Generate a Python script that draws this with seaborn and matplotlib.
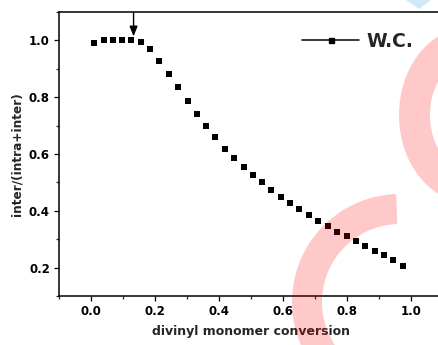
import numpy as np
import pandas as pd
import matplotlib
matplotlib.use("Agg")
import matplotlib.pyplot as plt
from matplotlib.lines import Line2D
from matplotlib.patches import Polygon
import seaborn as sns

# Fraction of intermolecular reactions vs. divinyl monomer conversion
conversion = [0.010, 0.040, 0.069, 0.098, 0.126, 0.156, 0.185, 0.214, 0.244,
              0.273, 0.302, 0.331, 0.360, 0.389, 0.419, 0.448, 0.477, 0.506,
              0.535, 0.564, 0.593, 0.622, 0.651, 0.681, 0.710, 0.740, 0.770,
              0.799, 0.828, 0.857, 0.887, 0.916, 0.945, 0.975]
inter_ratio = [0.990, 1.000, 1.000, 1.000, 1.000, 0.993, 0.968, 0.928, 0.883,
               0.836, 0.787, 0.742, 0.700, 0.659, 0.619, 0.586, 0.554, 0.527,
               0.501, 0.474, 0.450, 0.427, 0.405, 0.384, 0.364, 0.347, 0.326,
               0.311, 0.293, 0.277, 0.259, 0.244, 0.226, 0.207]
series_name = "W.C."
onset_x = 0.133
x_ticks = [0.0, 0.2, 0.4, 0.6, 0.8, 1.0]
y_ticks = [0.2, 0.4, 0.6, 0.8, 1.0]

df = pd.DataFrame({"conversion": conversion, "ratio": inter_ratio})

sns.set_theme(style="ticks")
plt.rcParams["font.family"] = ["DejaVu Sans"]
plt.rcParams["font.weight"] = "bold"

fig = plt.figure(figsize=(4.39, 3.45), dpi=100)
ax = fig.add_axes([59 / 439, 49 / 345, 384 / 439, 284 / 345])

sns.scatterplot(data=df, x="conversion", y="ratio", marker="s", s=20,
                color="black", edgecolor="black", linewidth=0, ax=ax,
                legend=False, zorder=3)

ax.set_xlim(-0.1, 1.1)
ax.set_ylim(0.1, 1.1)
ax.set_xticks(x_ticks)
ax.set_yticks(y_ticks)
ax.set_xticks(np.arange(-0.1, 1.11, 0.1), minor=True)
ax.set_yticks(np.arange(0.1, 1.11, 0.1), minor=True)
ax.set_xticklabels([f"{v:.1f}" for v in x_ticks])
ax.set_yticklabels([f"{v:.1f}" for v in y_ticks])
ax.tick_params(which="major", direction="out", length=3.5, width=0.9,
               labelsize=8.5, pad=3, colors="black")
ax.tick_params(which="minor", direction="out", length=2.2, width=0.9)
ax.tick_params(axis="x", which="both", top=False)
ax.tick_params(axis="y", which="both", right=False)
for lab in ax.get_xticklabels() + ax.get_yticklabels():
    lab.set_fontweight("bold")

for side in ["left", "bottom", "top", "right"]:
    ax.spines[side].set_visible(True)
    ax.spines[side].set_color("black")
    ax.spines[side].set_linewidth(1.1)

ax.set_xlabel("divinyl monomer conversion", fontsize=9, fontweight="bold",
              labelpad=5)
ax.set_ylabel("inter/(intra+inter)", fontsize=8.7, fontweight="bold",
              labelpad=4)

# arrow marking the onset of the drop
ax.annotate("", xy=(onset_x, 1.014), xytext=(onset_x, 1.098),
            arrowprops=dict(arrowstyle="-|>,head_length=0.5,head_width=0.2",
                            color="black", lw=1.0, mutation_scale=12,
                            shrinkA=0, shrinkB=0))

handle = Line2D([0], [0], color="black", lw=1.1, marker="s", markersize=3.6)
leg = ax.legend([handle], [series_name], loc="upper left",
                bbox_to_anchor=(0.59, 0.99), frameon=False,
                handlelength=3.0, handletextpad=0.4,
                prop={"weight": "bold", "size": 13.5})

# faint logo overlay
ov = fig.add_axes([0, 0, 1, 1], zorder=10)
ov.set_xlim(0, 439)
ov.set_ylim(345, 0)
ov.axis("off")
ov.patch.set_alpha(0)


def ring(cx, cy, a_out, b_out, a_in, b_in, t0, t1):
    t = np.radians(np.linspace(t0, t1, 200))
    outer = np.c_[cx + a_out * np.cos(t), cy - b_out * np.sin(t)]
    inner = np.c_[cx + a_in * np.cos(t[::-1]), cy - b_in * np.sin(t[::-1])]
    return np.vstack([outer, inner])


ov.add_patch(Polygon(ring(400, 302, 108, 108, 78, 78, 92, 280),
                     closed=True, facecolor="red", alpha=0.21, lw=0))
ov.add_patch(Polygon(ring(470, 115, 71, 88, 40, 55, 50, 310),
                     closed=True, facecolor="red", alpha=0.21, lw=0))
ov.add_patch(Polygon([[406, 0], [431, 0], [419, 9]], closed=True,
                     facecolor="#cfe9f8", lw=0))

fig.savefig("out.png", dpi=100)
